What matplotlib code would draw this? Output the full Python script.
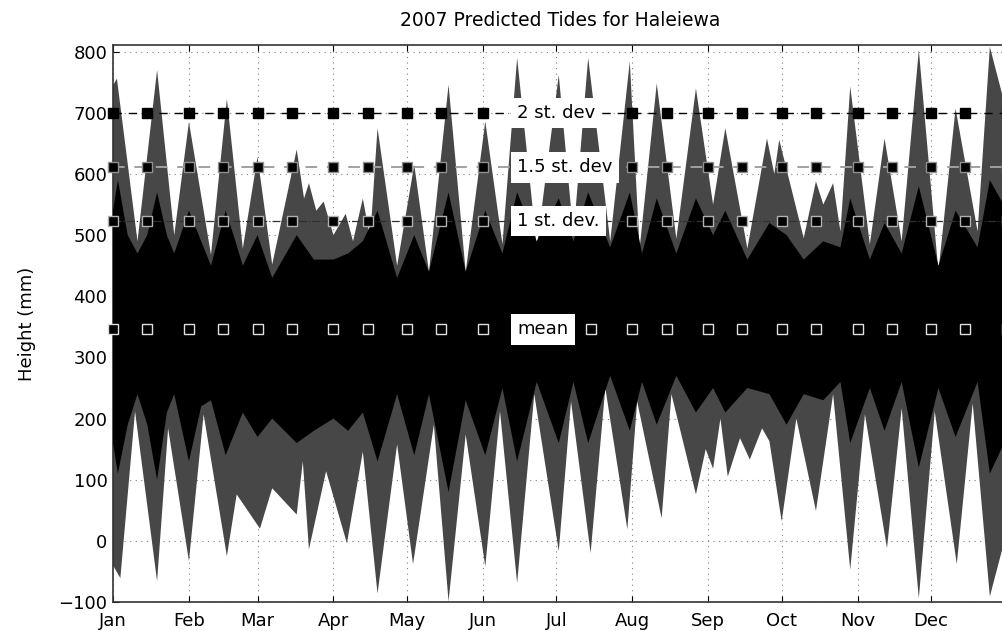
import matplotlib
matplotlib.use("Agg")
import matplotlib.pyplot as plt

# ---------------- data ----------------
month_labels = ["Jan", "Feb", "Mar", "Apr", "May", "Jun",
                "Jul", "Aug", "Sep", "Oct", "Nov", "Dec"]
month_start_days = [0, 31, 59, 90, 120, 151, 181, 212, 243, 273, 304, 334]

# upper envelope of the predicted tide (day of year, mm)
high_env_days = [0, 1.6, 10, 18, 25, 31, 40, 46.5, 53, 59, 65, 75, 78, 80, 83, 86,
                 90, 95, 98, 102, 105, 108, 116, 123, 129, 137, 144, 152, 159, 165,
                 173, 182, 188, 194, 203, 211, 215, 222, 230, 238, 245, 250, 259, 267,
                 270, 272, 282, 287, 290, 294, 297, 301, 309, 315, 322, 329, 337, 344,
                 353, 358, 365]
high_env_mm = [745, 756, 490, 770, 500, 685, 468, 723, 478, 628, 452, 640, 560, 585, 540, 555,
               500, 535, 490, 560, 495, 675, 450, 615, 440, 746, 440, 686, 485, 790,
               480, 762, 500, 790, 490, 784, 478, 748, 494, 740, 550, 675, 478, 658,
               600, 656, 495, 588, 550, 585, 506, 743, 485, 658, 490, 803, 440, 707,
               506, 808, 700]

# lower envelope of the predicted tide (day of year, mm)
low_env_days = [0, 3, 9, 18, 22.5, 31, 37, 46.5, 50.5, 60, 65, 75, 77.5, 80, 87, 95.5,
                102, 108, 116, 122.5, 131, 137, 144, 152, 158, 165, 172, 182, 187, 195,
                201, 210, 214, 224, 228, 238, 242, 245, 248, 251, 256, 260, 265, 268,
                273, 279, 287, 294, 301, 307, 316, 322, 329, 335.5, 344.5, 351, 358, 365]
low_env_mm = [-40, -61, 212, -66, 184, -33, 207, -25, 76, 20, 86, 43, 130, -14, 114, -4,
              146, -86, 158, -38, 190, -99, 174, -42, 212, -69, 240, -17, 228, -20,
              250, 19, 228, 37, 240, 76, 150, 118, 200, 105, 168, 133, 184, 163,
              32, 200, 49, 240, -47, 207, -12, 217, -94, 212, -38, 225, -91, 16]

# dense (black) core of the trace
core_days = [0, 2, 6, 10, 14, 18, 22, 25, 31, 36, 40, 46, 50, 53, 59, 65, 75, 82, 90, 96,
             102, 108, 116, 123, 129, 137, 144, 152, 159, 165, 173, 182, 188, 194, 203,
             211, 216, 222, 230, 238, 245, 250, 259, 268, 275, 282, 290, 297, 301, 309,
             315, 322, 329, 337, 344, 353, 358, 365]
core_top_mm = [540, 590, 500, 470, 500, 570, 500, 470, 540, 490, 450, 540, 490, 450, 500,
               430, 500, 460, 460, 470, 490, 540, 430, 500, 440, 570, 440, 540, 470, 570,
               490, 560, 490, 570, 480, 570, 470, 560, 470, 560, 500, 540, 460, 520, 500,
               460, 490, 480, 560, 460, 520, 470, 580, 450, 540, 480, 590, 540]
core_bottom_mm = [160, 110, 190, 240, 190, 100, 210, 240, 130, 220, 230, 140, 180, 210, 170,
                  200, 160, 180, 200, 180, 210, 130, 240, 140, 240, 80, 230, 140, 250, 130,
                  260, 160, 260, 160, 270, 180, 260, 190, 270, 210, 250, 210, 250, 240, 190,
                  240, 230, 260, 160, 250, 180, 260, 120, 250, 170, 260, 110, 170]

mean_mm = 346
sd1_mm = 523
sd15_mm = 611
sd2_mm = 700

level_labels = ["mean", "1 st. dev.", "1.5 st. dev", "2 st. dev"]
label_day = 165

# ---------------- figure ----------------
W, H = 1003, 631
fig = plt.figure(figsize=(W / 100, H / 100), dpi=100)
ax_left, ax_right, ax_top, ax_bottom = 113, 1007, 45, 602
ax = fig.add_axes([ax_left / W, 1 - ax_bottom / H,
                   (ax_right - ax_left) / W, (ax_bottom - ax_top) / H])

gray = "#474747"
# envelope polygon
env_x = high_env_days + low_env_days[::-1]
env_y = high_env_mm + low_env_mm[::-1]
ax.fill(env_x, env_y, color=gray, lw=0, zorder=2)
# black core polygon
core_x = core_days + core_days[::-1]
core_y = core_top_mm + core_bottom_mm[::-1]
ax.fill(core_x, core_y, color="black", lw=0, zorder=3)

# reference levels
marker_days = []
for d in month_start_days:
    marker_days += [d, d + 14]
marker_days.append(365)

ax.axhline(sd2_mm, color="black", lw=1.0, ls=(0, (6, 5)), zorder=4)
ax.axhline(sd15_mm, color="#a0a0a0", lw=1.4, ls=(0, (6, 5)), zorder=4)
ax.axhline(sd1_mm, color="#303030", lw=0.9, ls="-.", zorder=4)

ms = 7
ax.plot(marker_days, [sd2_mm] * len(marker_days), ls="none", marker="s", ms=ms,
        mfc="black", mec="black", zorder=5, clip_on=False)
ax.plot(marker_days, [sd15_mm] * len(marker_days), ls="none", marker="s", ms=ms,
        mfc="black", mec="#909090", mew=1.0, zorder=5, clip_on=False)
ax.plot(marker_days, [sd1_mm] * len(marker_days), ls="none", marker="s", ms=ms,
        mfc="black", mec="#b0b0b0", mew=1.0, zorder=5, clip_on=False)
ax.plot(marker_days, [mean_mm] * len(marker_days), ls="none", marker="s", ms=ms,
        mfc="black", mec="#e0e0e0", mew=1.0, zorder=5, clip_on=False)

for lab, lev in zip(level_labels, [mean_mm, sd1_mm, sd15_mm, sd2_mm]):
    ax.text(label_day, lev, lab, ha="left", va="center", fontsize=13, zorder=6,
            bbox=dict(boxstyle="square,pad=0.35", facecolor="white", edgecolor="none"))

# axes
ax.set_xlim(0, 365)
ax.set_ylim(-100, 811)
ax.set_xticks(month_start_days)
ax.set_xticklabels(month_labels)
ax.set_yticks(range(-100, 801, 100))
ax.tick_params(direction="in", top=True, right=True, length=4, labelsize=13)
ax.tick_params(axis="x", pad=7)
ax.tick_params(axis="y", pad=4)
ax.grid(True, ls=(0, (1, 4)), color="#808080", lw=0.8, zorder=1)
ax.set_axisbelow(True)
for s in ax.spines.values():
    s.set_linewidth(1.2)
    s.set_color("#333333")

ax.set_ylabel("Height (mm)", fontsize=13, labelpad=16)
fig.text(560 / W, 1 - 20 / H, "2007 Predicted Tides for Haleiewa",
         ha="center", va="center", fontsize=13.5)

fig.savefig("out.png", dpi=100)
